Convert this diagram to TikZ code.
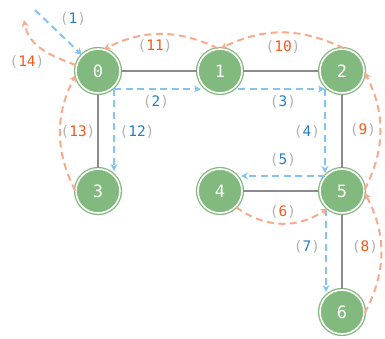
\documentclass[tikz,border=0pt]{standalone}
\usepackage{fontspec}
\usetikzlibrary{arrows.meta,calc}
\newfontfamily\monof{DejaVu Sans Mono}
\definecolor{ngreen}{RGB}{130,185,126}
\definecolor{egray}{RGB}{140,140,140}
\definecolor{bdash}{RGB}{133,196,240}
\definecolor{odash}{RGB}{247,170,140}
\definecolor{lblue}{RGB}{38,128,200}
\definecolor{lorange}{RGB}{242,90,30}
\definecolor{parc}{RGB}{178,178,178}
\newcommand\plab[2]{\textcolor{parc}{(}\textcolor{#1}{#2}\textcolor{parc}{)}}
\tikzset{
  vtx/.style={circle, minimum size=44pt, inner sep=0pt, fill=ngreen, draw=ngreen,
    double=white, double distance=1.6pt, line width=1.3pt, text=white,
    font=\monof\fontsize{17}{17}\selectfont},
  edge/.style={draw=egray, line width=2.2pt},
  blu/.style={draw=bdash, line width=2pt, dash pattern=on 7pt off 4.5pt,
    -{Stealth[length=7pt,width=7pt,fill=bdash]}},
  ora/.style={draw=odash, line width=2pt, dash pattern=on 7pt off 4.5pt,
    -{Stealth[length=7pt,width=7pt,fill=odash]}},
  lab/.style={inner sep=0pt, font=\monof\fontsize{14.5}{14.5}\selectfont}
}
\begin{document}
\begin{tikzpicture}[x=1pt,y=1pt]
\useasboundingbox (0,0) rectangle (385,-339);
% nodes
\node[vtx] (n0) at (98,-71) {0};
\node[vtx] (n1) at (220,-71) {1};
\node[vtx] (n2) at (342,-71) {2};
\node[vtx] (n3) at (98,-191) {3};
\node[vtx] (n4) at (220,-191) {4};
\node[vtx] (n5) at (342,-191) {5};
\node[vtx] (n6) at (342,-312) {6};
% edges
\draw[edge] (n0) -- (n1);
\draw[edge] (n1) -- (n2);
\draw[edge] (n0) -- (n3);
\draw[edge] (n2) -- (n5);
\draw[edge] (n4) -- (n5);
\draw[edge] (n5) -- (n6);
% blue traversal
\coordinate (s1) at (35,-10);
\coordinate (b0) at ($(n0)+(16,-18)$);
\coordinate (b2) at ($(n2)+(-17,-18)$);
\draw[blu] (s1) -- (n0.135);
\draw[blu] (b0) -- ($(n1)+(-19,-18)$);
\draw[blu] (b0) -- ($(n3)+(16,20)$);
\draw[blu] ($(n1)+(18,-18)$) -- (b2);
\draw[blu] (b2) -- ($(n5)+(-17,18)$);
\draw[blu] ($(n5)+(-17,15)$) -- ($(n4)+(21,15)$);
\draw[blu] ($(n5)+(-16,-18)$) -- ($(n6)+(-16,20)$);
% orange returns
\coordinate (c14) at (24,-20);
\draw[ora] (n1.95) to[bend right=26] (n0.75);
\draw[ora] (n2.85) to[bend right=26] (n1.88);
\draw[ora] (n5.3) to[bend right=27] (n2.-3);
\draw[ora] (n6.-3) to[bend right=28] (n5.-4);
\draw[ora] (n4.-45) to[bend right=36] (n5.-130);
\draw[ora] (n3.180) to[bend left=27] (n0.190);
\draw[ora] (n0.165) to[out=160,in=-80] (c14);
% labels
\node[lab] (l1) at (73,-19) {\plab{lblue}{1}};
\node[lab] (l14) at (27,-62) {\plab{lorange}{14}};
\node[lab] (l11) at (155,-46) {\plab{lorange}{11}};
\node[lab] (l2) at (156,-102) {\plab{lblue}{2}};
\node[lab] (l13) at (78,-132) {\plab{lorange}{13}};
\node[lab] (l12) at (137,-132) {\plab{lblue}{12}};
\node[lab] (l10) at (283,-47) {\plab{lorange}{10}};
\node[lab] (l3) at (283,-102) {\plab{lblue}{3}};
\node[lab] (l4) at (307,-132) {\plab{lblue}{4}};
\node[lab] (l9) at (363,-130) {\plab{lorange}{9}};
\node[lab] (l5) at (283,-160) {\plab{lblue}{5}};
\node[lab] (l6) at (283,-212) {\plab{lorange}{6}};
\node[lab] (l7) at (307,-247) {\plab{lblue}{7}};
\node[lab] (l8) at (365,-247) {\plab{lorange}{8}};
\end{tikzpicture}
\end{document}
